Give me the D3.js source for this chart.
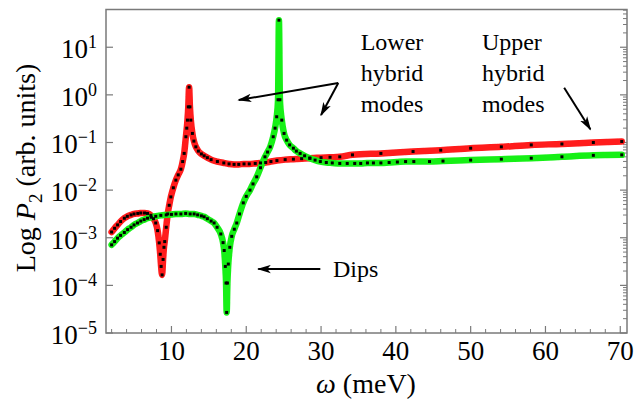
<!DOCTYPE html>
<html>
<head>
<meta charset="utf-8">
<script src="https://cdn.jsdelivr.net/npm/d3@7"></script>
<style>
  body { margin: 0; background: #fff; }
</style>
</head>
<body>
<svg id="chart"></svg>
<script>
// values: omega in meV, P2 in arb. units
const omegaRed = [2.0, 2.4, 2.8, 3.2, 3.7, 4.1, 4.6, 5.0, 5.5, 5.9, 6.4, 6.8, 7.25, 7.6, 7.9, 8.15, 8.36, 8.5, 8.62, 8.75,
  8.88, 9.0, 9.1, 9.3, 9.5, 9.7, 9.92, 10.25, 10.59, 10.9, 11.26, 11.5, 11.7, 11.93, 12.05, 12.14, 12.25, 12.36,
  12.47, 12.59, 12.8, 13.0, 13.26, 13.6, 14.0, 14.37, 14.8, 15.3, 16.14, 17.0, 17.7, 18.37, 19.0, 19.7, 20.4,
  21.2, 21.9, 22.6, 23.3, 24.1, 25.2, 26.3, 27.4, 28.5, 30.0, 31.2, 32.5, 34.2, 38.0, 42.3, 46.0, 50.0, 54.1,
  58.1, 62.2, 66.4, 70.2];
const p2Red = [1.32e-3, 1.58e-3, 1.86e-3, 2.19e-3, 2.57e-3, 2.82e-3, 3.02e-3, 3.16e-3, 3.24e-3, 3.31e-3, 3.31e-3,
  3.24e-3, 2.95e-3, 2.51e-3, 2.04e-3, 1.41e-3, 7.8e-4, 4.5e-4, 2.5e-4, 1.66e-4,
  3.5e-4, 6.3e-4, 8.3e-4, 1.66e-3, 3.16e-3, 4.8e-3, 7.2e-3, 1.12e-2, 1.62e-2, 2.09e-2, 2.75e-2, 3.98e-2, 5.9e-2,
  0.132, 0.20, 0.295, 0.56, 1.45,
  0.56, 0.295, 0.155, 0.107, 0.081, 0.066, 0.0575, 0.0525, 0.048, 0.0437, 0.0398, 0.0372, 0.0355, 0.0347, 0.0347,
  0.0355, 0.0355, 0.0363, 0.0372, 0.038, 0.0398, 0.0417, 0.0437, 0.0447, 0.0457, 0.0468, 0.048, 0.049, 0.050,
  0.055, 0.059, 0.0646, 0.069, 0.0759, 0.081, 0.089, 0.093, 0.100, 0.105];

const omegaGreen = [2.0, 2.4, 2.79, 3.2, 3.7, 4.14, 4.6, 5.0, 5.46, 5.9, 6.35, 6.8, 7.3, 7.9, 8.58, 9.3, 10.0, 10.6,
  11.26, 11.9, 12.5, 13.03, 13.5, 14.0, 14.37, 14.8, 15.3, 15.7, 16.1, 16.6, 16.9, 17.05, 17.2, 17.3, 17.38,
  17.48, 17.6, 17.8, 18.06, 18.4, 18.73, 19.1, 19.6, 20.0, 20.5, 20.9, 21.4, 21.9, 22.5, 22.85, 23.2, 23.6, 23.85,
  24.07, 24.25, 24.37, 24.5, 24.75, 25.05, 25.4, 25.8, 26.3, 26.7, 27.2, 27.8, 28.5, 29.2, 29.9, 30.7, 31.5,
  32.5, 33.5, 34.5, 35.3, 36.2, 37.0, 38.0, 39.1, 40.2, 41.3, 42.4, 44.5, 46.3, 50.0, 54.1, 58.1, 62.2, 66.4, 70.2];
const p2Green = [7.1e-4, 8.3e-4, 9.8e-4, 1.12e-3, 1.29e-3, 1.48e-3, 1.66e-3, 1.86e-3, 2.04e-3, 2.24e-3, 2.4e-3,
  2.57e-3, 2.69e-3, 2.82e-3, 2.95e-3, 3.02e-3, 3.09e-3, 3.16e-3, 3.16e-3, 3.24e-3, 3.16e-3, 3.16e-3, 3.02e-3,
  2.88e-3, 2.75e-3, 2.51e-3, 2.24e-3, 2.04e-3, 1.66e-3, 1.2e-3, 7.9e-4, 5.4e-4, 2.5e-4, 1.12e-4, 2.7e-5,
  1.12e-4, 2.8e-4, 6.3e-4, 1.07e-3, 1.51e-3, 2.04e-3, 3.16e-3, 5.4e-3, 7.4e-3, 1.0e-2, 1.35e-2, 1.9e-2, 2.95e-2,
  5.0e-2, 6.3e-2, 8.1e-2, 0.132, 0.20, 0.347, 0.79, 37,
  0.79, 0.295, 0.155, 0.112, 0.089, 0.0759, 0.066, 0.059, 0.0525, 0.0468, 0.0427, 0.0398, 0.038, 0.0372, 0.0363,
  0.0363, 0.0363, 0.0363, 0.0372, 0.0372, 0.0372, 0.038, 0.0389, 0.0398, 0.0398, 0.0398, 0.0407, 0.0427, 0.0447,
  0.0468, 0.050, 0.0537, 0.055];

const xTickValues = [10, 20, 30, 40, 50, 60, 70];
const yTickExponents = [-5, -4, -3, -2, -1, 0, 1];

const width = 636, height = 401;
const plotLeft = 106, plotRight = 627, plotTop = 9.5, plotBottom = 333;
const serif = "'Liberation Serif', 'Times New Roman', Times, serif";

const svg = d3.select("#chart").attr("width", width).attr("height", height)
  .attr("font-family", serif);

const x = d3.scaleLinear().domain([1.25, 70.9]).range([plotLeft, plotRight]);
const y = d3.scaleLog().domain([1e-5, 62]).range([plotBottom, plotTop]);

const defs = svg.append("defs");
defs.append("clipPath").attr("id", "plotclip")
  .append("rect").attr("x", plotLeft).attr("y", plotTop)
  .attr("width", plotRight - plotLeft).attr("height", plotBottom - plotTop);
defs.append("filter").attr("id", "soft")
  .append("feGaussianBlur").attr("stdDeviation", 0.7);
defs.append("marker").attr("id", "head")
  .attr("viewBox", "0 0 10 6").attr("refX", 9).attr("refY", 3)
  .attr("markerWidth", 7).attr("markerHeight", 4.5).attr("markerUnits", "strokeWidth")
  .attr("orient", "auto")
  .append("path").attr("d", "M0,0 L10,3 L0,6 L2.5,3 Z").attr("fill", "#000");

// frame
const axisColor = "#7a7a7a";
svg.append("rect")
  .attr("x", plotLeft).attr("y", plotTop)
  .attr("width", plotRight - plotLeft).attr("height", plotBottom - plotTop)
  .attr("fill", "none").attr("stroke", axisColor).attr("stroke-width", 1.5);

// bottom ticks (major + minor every 2)
const xMinor = d3.range(2, 71, 2).filter(v => v % 10 !== 0);
svg.append("g").selectAll("line").data(xTickValues).join("line")
  .attr("x1", d => x(d)).attr("x2", d => x(d)).attr("y1", plotBottom).attr("y2", plotBottom - 7)
  .attr("stroke", axisColor).attr("stroke-width", 1.2);
svg.append("g").selectAll("line").data(xMinor).join("line")
  .attr("x1", d => x(d)).attr("x2", d => x(d)).attr("y1", plotBottom).attr("y2", plotBottom - 4)
  .attr("stroke", axisColor).attr("stroke-width", 1);
svg.append("g").selectAll("text").data(xTickValues).join("text")
  .attr("x", d => x(d)).attr("y", 360).attr("text-anchor", "middle")
  .attr("font-family", serif).attr("font-size", 27).text(d => d);

// left ticks (major) and right ticks (major + minor)
const yMajor = yTickExponents.map(e => Math.pow(10, e));
const yMinor = y.ticks().filter(v => yMajor.indexOf(v) < 0 && v > 1e-5 && v < 62);
svg.append("g").selectAll("line").data(yMajor).join("line")
  .attr("x1", plotLeft).attr("x2", plotLeft + 7).attr("y1", d => y(d)).attr("y2", d => y(d))
  .attr("stroke", axisColor).attr("stroke-width", 1.2);
svg.append("g").selectAll("line").data(yMajor).join("line")
  .attr("x1", plotRight).attr("x2", plotRight - 7).attr("y1", d => y(d)).attr("y2", d => y(d))
  .attr("stroke", axisColor).attr("stroke-width", 1.2);
svg.append("g").selectAll("line").data(yMinor).join("line")
  .attr("x1", plotRight).attr("x2", plotRight - 4).attr("y1", d => y(d)).attr("y2", d => y(d))
  .attr("stroke", axisColor).attr("stroke-width", 1);

const yLab = svg.append("g").selectAll("text").data(yTickExponents).join("text")
  .attr("x", 97).attr("y", d => y(Math.pow(10, d)) + 11).attr("text-anchor", "end")
  .attr("font-family", serif).attr("font-size", 27);
yLab.append("tspan").text("10");
yLab.append("tspan").attr("font-size", 18).attr("dy", -10)
  .text(d => d < 0 ? "\u2212" + (-d) : d);

// axis titles
const xTitle = svg.append("text").attr("x", 366).attr("y", 393).attr("text-anchor", "middle")
  .attr("font-family", serif).attr("font-size", 28);
xTitle.append("tspan").attr("font-style", "italic").text("ω");
xTitle.append("tspan").text(" (meV)");

const yTitle = svg.append("text").attr("transform", "translate(35,168) rotate(-90)")
  .attr("text-anchor", "middle").attr("font-family", serif).attr("font-size", 28);
yTitle.append("tspan").text("Log ");
yTitle.append("tspan").attr("font-style", "italic").text("P");
yTitle.append("tspan").attr("font-size", 19).attr("dy", 7).text("2");
yTitle.append("tspan").attr("dy", -7).text(" (arb. units)");

// curves
const red = d3.zip(omegaRed, p2Red);
const green = d3.zip(omegaGreen, p2Green);
const line = d3.line().x(d => x(d[0])).y(d => y(d[1])).curve(d3.curveMonotoneX);

const plot = svg.append("g").attr("clip-path", "url(#plotclip)");
[[red, "#ff1a1a"], [green, "#19f019"]].forEach(function(s) {
  plot.append("path").datum(s[0])
    .attr("d", line).attr("fill", "none").attr("stroke", s[1])
    .attr("stroke-width", 6.5).attr("stroke-linejoin", "round").attr("stroke-linecap", "round")
    .attr("filter", "url(#soft)");
});
[red, green].forEach(function(s) {
  plot.append("g").selectAll("rect").data(s).join("rect")
    .attr("x", d => x(d[0]) - 1.5).attr("y", d => y(d[1]) - 1.5)
    .attr("width", 3).attr("height", 3).attr("fill", "#000");
});

// annotations (placed in data units)
const notes = svg.append("g").attr("font-family", serif).attr("font-size", 24);
function block(xv, lines) {
  lines.forEach(function(t, i) {
    notes.append("text").attr("x", x(xv)).attr("y", y(8.7) + i * 31)
      .attr("font-family", serif).text(t);
  });
}
block(35.3, ["Lower", "hybrid", "modes"]);
block(51.5, ["Upper", "hybrid", "modes"]);
notes.append("text").attr("x", x(31.6)).attr("y", y(1.5e-4)).attr("font-family", serif).text("Dips");

const arrows = [
  [32.3, 1.77, 19.0, 0.78],
  [32.3, 1.77, 30.0, 0.377],
  [62.5, 1.41, 66.0, 0.19],
  [29.9, 2.2e-4, 21.6, 2.2e-4]
];
svg.append("g").selectAll("line").data(arrows).join("line")
  .attr("x1", d => x(d[0])).attr("y1", d => y(d[1]))
  .attr("x2", d => x(d[2])).attr("y2", d => y(d[3]))
  .attr("stroke", "#000").attr("stroke-width", 2).attr("marker-end", "url(#head)");
</script>
</body>
</html>
